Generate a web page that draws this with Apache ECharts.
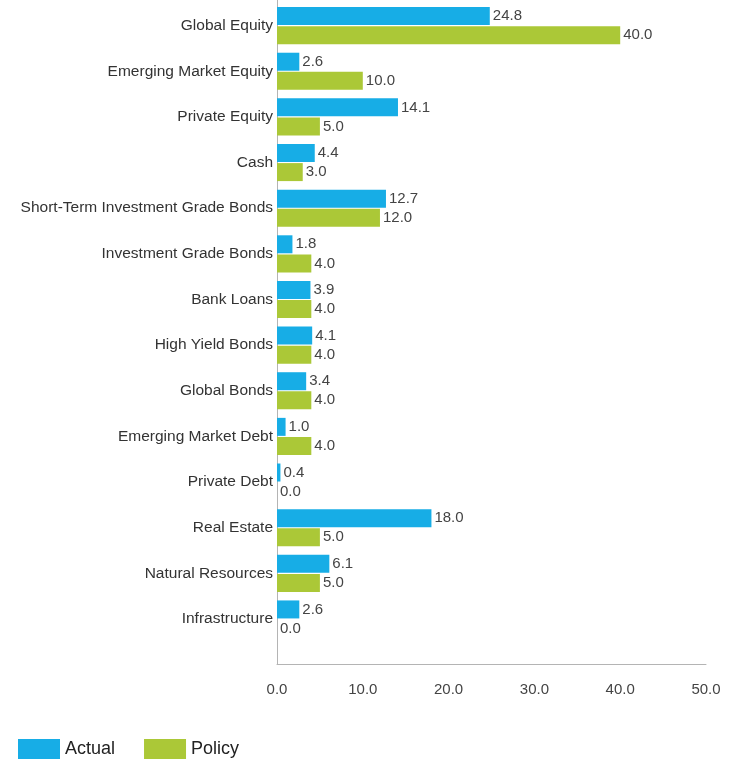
<!DOCTYPE html>
<html>
<head>
<meta charset="utf-8">
<script src="https://cdn.jsdelivr.net/npm/echarts@6/dist/echarts.min.js"></script>
<style>
  html, body { margin: 0; padding: 0; background: #ffffff; }
  #chart { width: 733px; height: 768px; }
</style>
</head>
<body>
<div id="chart"></div>
<script>
// Asset classes, top to bottom
const categories = [
  'Global Equity',
  'Emerging Market Equity',
  'Private Equity',
  'Cash',
  'Short-Term Investment Grade Bonds',
  'Investment Grade Bonds',
  'Bank Loans',
  'High Yield Bonds',
  'Global Bonds',
  'Emerging Market Debt',
  'Private Debt',
  'Real Estate',
  'Natural Resources',
  'Infrastructure'
];

// Allocation in percent
const actual = [24.8, 2.6, 14.1, 4.4, 12.7, 1.8, 3.9, 4.1, 3.4, 1.0, 0.4, 18.0, 6.1, 2.6];
const policy = [40.0, 10.0, 5.0, 3.0, 12.0, 4.0, 4.0, 4.0, 4.0, 4.0, 0.0, 5.0, 5.0, 0.0];

const xTicks = [0, 10, 20, 30, 40, 50];

const FONT = 'Arial, "Liberation Sans", sans-serif';
const BLUE = '#17ade6';
const GREEN = '#abc837';
const AXIS_GRAY = '#b4b4b4';

const chart = echarts.init(document.getElementById('chart'), null, { renderer: 'canvas' });

const labelStyle = {
  show: true,
  position: 'right',
  distance: 3,
  fontFamily: FONT,
  fontSize: 15,
  color: '#444',
  formatter: p => Number(p.value).toFixed(1)
};

chart.setOption({
  backgroundColor: '#ffffff',
  animation: false,
  grid: [
    // bars
    { left: 277, right: 27, top: 2.8, height: 639, containLabel: false },
    // frame: axis lines and value ticks
    { left: 277, right: 27, top: 0, height: 664, containLabel: false }
  ],
  legend: {
    left: 18,
    top: 739,
    padding: 0,
    itemWidth: 42,
    itemHeight: 20,
    itemGap: 29,
    icon: 'rect',
    textStyle: { fontFamily: FONT, fontSize: 18, color: '#222' },
    data: ['Actual', 'Policy']
  },
  xAxis: [
    {
      gridIndex: 0,
      type: 'value',
      min: xTicks[0],
      max: xTicks[xTicks.length - 1],
      interval: 10,
      show: false
    },
    {
      gridIndex: 1,
      type: 'value',
      min: xTicks[0],
      max: xTicks[xTicks.length - 1],
      interval: 10,
      axisLine: { show: true, lineStyle: { color: AXIS_GRAY, width: 1 } },
      axisTick: { show: false },
      splitLine: { show: false },
      axisLabel: {
        margin: 18,
        fontFamily: FONT,
        fontSize: 15,
        color: '#444',
        formatter: v => v.toFixed(1)
      }
    }
  ],
  yAxis: [
    {
      gridIndex: 0,
      type: 'category',
      inverse: true,
      data: categories,
      axisLine: { show: false },
      axisTick: { show: false },
      axisLabel: {
        margin: 4,
        fontFamily: FONT,
        fontSize: 15.5,
        color: '#333'
      }
    },
    {
      gridIndex: 1,
      type: 'value',
      min: 0,
      max: 1,
      axisLine: { show: true, lineStyle: { color: AXIS_GRAY, width: 1 } },
      axisTick: { show: false },
      axisLabel: { show: false },
      splitLine: { show: false }
    }
  ],
  series: [
    {
      name: 'Actual',
      type: 'bar',
      xAxisIndex: 0,
      yAxisIndex: 0,
      data: actual,
      barWidth: 18,
      barGap: '6%',
      itemStyle: { color: BLUE },
      label: labelStyle
    },
    {
      name: 'Policy',
      type: 'bar',
      xAxisIndex: 0,
      yAxisIndex: 0,
      data: policy,
      barWidth: 18,
      barGap: '6%',
      itemStyle: { color: GREEN },
      label: labelStyle
    }
  ]
});
</script>
</body>
</html>
